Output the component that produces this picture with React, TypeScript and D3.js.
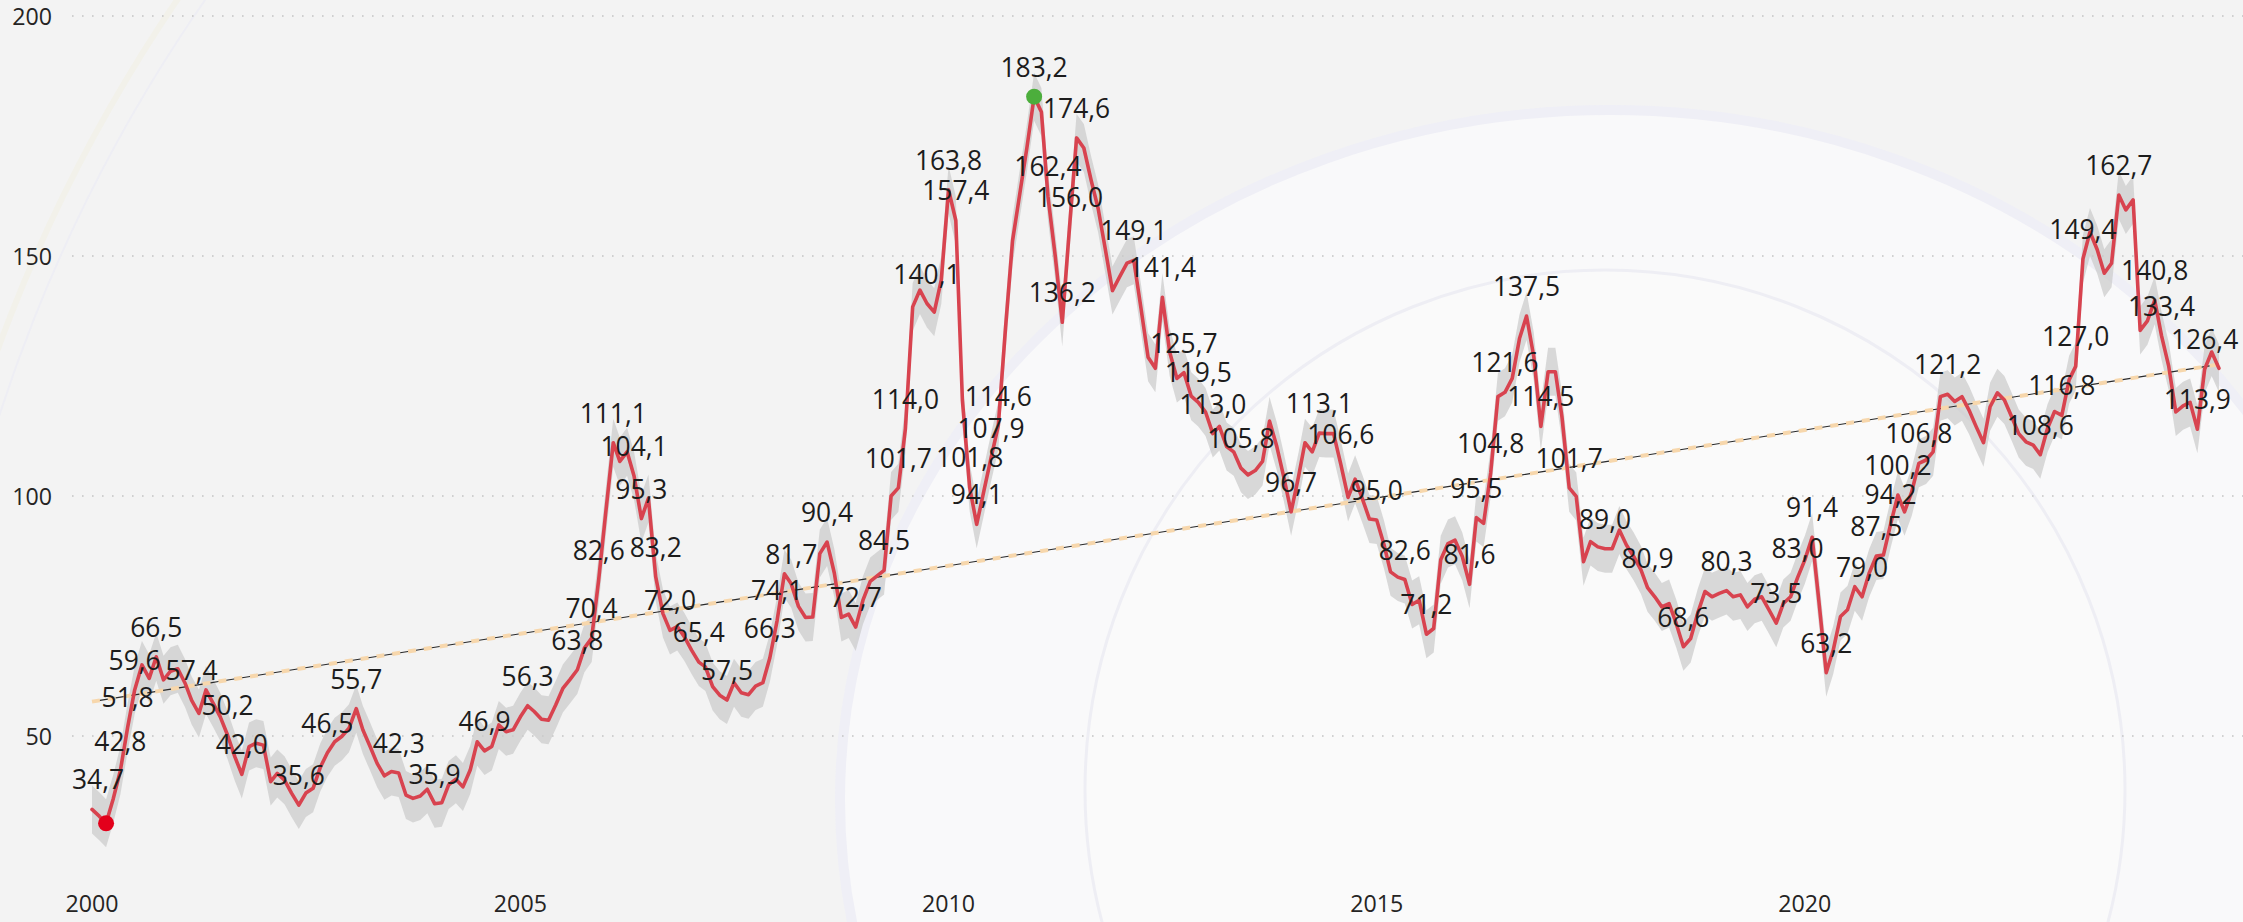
import React, { useEffect, useRef } from 'react';
import * as d3 from 'd3';

// ---- data (monthly, starting January 2000) ----
const START_YEAR = 2000;
const VALUES: number[] = [
  // 2000
  34.7, 33.3, 31.8, 37.0, 42.8, 51.8, 59.6, 64.8, 62.0, 66.5, 61.7, 63.5,
  // 2001
  64.0, 61.0, 57.4, 54.7, 59.6, 56.8, 54.0, 50.2, 45.7, 42.0, 47.8, 48.5,
  // 2002
  48.1, 40.5, 42.2, 40.8, 38.1, 35.6, 38.1, 39.1, 43.5, 46.5, 48.8, 49.9,
  // 2003
  51.6, 55.7, 51.3, 47.8, 44.3, 41.7, 42.6, 42.3, 37.7, 37.0, 37.5, 38.9,
  // 2004
  35.9, 36.1, 39.8, 41.0, 39.4, 42.9, 48.8, 46.9, 47.8, 52.3, 50.9, 51.3,
  // 2005
  54.0, 56.3, 55.1, 53.5, 53.3, 56.5, 59.9, 61.8, 63.8, 68.3, 70.4, 82.6,
  // 2006
  97.0, 111.1, 107.2, 109.2, 104.1, 95.3, 99.5, 83.2, 75.5, 72.0, 72.8, 70.7,
  // 2007
  67.9, 65.4, 64.4, 60.3, 58.5, 57.5, 61.1, 59.0, 58.6, 60.4, 61.1, 66.3,
  // 2008
  74.1, 83.8, 81.7, 77.0, 74.7, 74.8, 88.0, 90.4, 83.9, 74.7, 75.4, 72.7,
  // 2009
  78.3, 82.2, 83.3, 84.5, 100.0, 101.7, 114.0, 139.4, 142.9, 140.1, 138.3, 145.0,
  // 2010
  163.8, 157.4, 120.0, 101.8, 94.1, 101.1, 107.9, 114.6, 135.0, 153.2, 163.0, 172.5,
  // 2011
  183.2, 180.0, 162.4, 150.0, 136.2, 156.0, 174.6, 172.5, 165.8, 159.9, 151.3, 142.8,
  // 2012
  145.7, 148.5, 149.1, 139.0, 128.9, 126.6, 141.4, 130.0, 124.5, 125.7, 120.8, 119.5,
  // 2013
  117.5, 113.0, 114.5, 110.3, 109.2, 105.8, 104.4, 105.3, 107.2, 115.6, 110.3, 103.9,
  // 2014
  96.7, 103.9, 111.1, 109.2, 113.1, 113.0, 113.0, 106.6, 99.7, 103.5, 99.4, 95.2,
  // 2015
  95.0, 89.9, 84.2, 83.1, 82.6, 77.4, 78.3, 71.2, 72.4, 86.7, 90.1, 90.8,
  // 2016
  87.4, 81.6, 95.5, 94.3, 104.8, 120.7, 121.6, 124.5, 132.8, 137.5, 129.0, 114.5,
  // 2017
  125.9, 125.9, 116.5, 101.7, 99.9, 86.3, 90.5, 89.4, 89.0, 89.0, 92.9, 89.8,
  // 2018
  87.4, 84.6, 80.9, 79.0, 76.9, 77.6, 73.5, 68.6, 70.3, 75.6, 80.1, 79.0,
  // 2019
  79.7, 80.3, 79.0, 79.4, 76.9, 78.5, 79.0, 76.3, 73.5, 77.6, 79.0, 83.0,
  // 2020
  86.7, 91.4, 78.0, 63.2, 67.9, 74.9, 76.3, 81.1, 79.0, 83.9, 87.5, 87.7,
  // 2021
  94.2, 100.2, 96.7, 100.9, 106.8, 107.5, 109.2, 120.7, 121.2, 119.7, 120.7, 117.9,
  // 2022
  114.4, 111.1, 118.6, 121.5, 120.0, 116.5, 113.0, 111.3, 110.6, 108.6, 114.1, 117.6,
  // 2023
  116.8, 124.2, 127.0, 149.4, 155.0, 151.3, 146.4, 148.5, 162.7, 159.6, 161.7, 134.5,
  // 2024
  136.5, 140.8, 133.4, 127.0, 117.5, 118.8, 119.5, 113.9, 126.4, 130.0, 126.6,
];

// months (index into VALUES) that carry a data label
const LABEL_INDICES: number[] = [
  0, 4, 5, 6, 9, 14, 19, 21, 29, 33, 37, 43, 48, 55, 61, 68, 70, 71, 73, 76, 77, 79, 81,
  85, 89, 95, 96, 98, 103, 107, 111, 113, 114, 117, 120, 121, 123, 124, 126, 127, 132,
  134, 136, 137, 138, 146, 150, 153, 155, 157, 161, 168, 172, 175, 180, 184, 187, 193,
  194, 196, 198, 201, 203, 207, 212, 218, 223, 229, 236, 239, 241, 243, 248, 250, 252,
  253, 256, 260, 273, 276, 278, 279, 284, 289, 290, 295, 296,
];

const Y_TICKS: number[] = [50, 100, 150, 200];
const X_TICK_YEARS: number[] = [2000, 2005, 2010, 2015, 2020];
const ERROR_MARGIN = 5; // half-width of the grey error band

const W = 2243;
const H = 922;

export default function App() {
  const ref = useRef<SVGSVGElement | null>(null);

  useEffect(() => {
    document.body.style.margin = '0';
    const svg = d3.select(ref.current as SVGSVGElement);
    svg.selectAll('*').remove();

    const data = VALUES.map((v, i) => ({ i, date: new Date(START_YEAR, i, 1), v }));

    const x = d3
      .scaleTime()
      .domain([new Date(2000, 0, 1), new Date(2025, 0, 1)])
      .range([92, 92 + 25 * 85.65]);
    const y = d3.scaleLinear().domain([0, 200]).range([976, 16]);

    const plotLeft = 72;
    const plotRight = W;

    // ---- background ----
    svg.append('rect').attr('width', W).attr('height', H).attr('fill', '#f3f3f3');
    svg
      .append('circle')
      .attr('cx', 1500)
      .attr('cy', 900)
      .attr('r', 1600)
      .attr('fill', 'none')
      .attr('stroke', '#f2f1ea')
      .attr('stroke-width', 6);
    svg
      .append('circle')
      .attr('cx', 1500)
      .attr('cy', 900)
      .attr('r', 1577)
      .attr('fill', 'none')
      .attr('stroke', '#eeeef4')
      .attr('stroke-width', 2);
    svg
      .append('ellipse')
      .attr('cx', 1610)
      .attr('cy', 800)
      .attr('rx', 770)
      .attr('ry', 690)
      .attr('fill', '#f9f9fa')
      .attr('stroke', '#efeff6')
      .attr('stroke-width', 10);
    svg
      .append('circle')
      .attr('cx', 1605)
      .attr('cy', 790)
      .attr('r', 520)
      .attr('fill', '#fafafa')
      .attr('stroke', '#eeeef4')
      .attr('stroke-width', 3);

    // ---- gridlines ----
    const grid = svg.append('g');
    Y_TICKS.forEach((t) => {
      grid
        .append('line')
        .attr('x1', plotLeft)
        .attr('x2', plotRight)
        .attr('y1', y(t))
        .attr('y2', y(t))
        .attr('stroke', '#c4c4c4')
        .attr('stroke-width', 1.6)
        .attr('stroke-dasharray', '1.6 8.4');
    });

    const font = "'Open Sans', 'Segoe UI', sans-serif";

    // y axis labels
    svg
      .append('g')
      .selectAll('text')
      .data(Y_TICKS)
      .join('text')
      .attr('x', 52)
      .attr('y', (d) => y(d))
      .attr('text-anchor', 'end')
      .attr('dominant-baseline', 'central')
      .attr('font-family', font)
      .attr('font-size', 23.2)
      .attr('fill', '#252423')
      .text((d) => String(d));

    // x axis labels
    svg
      .append('g')
      .selectAll('text')
      .data(X_TICK_YEARS)
      .join('text')
      .attr('x', (d) => x(new Date(d, 0, 1)))
      .attr('y', 903)
      .attr('text-anchor', 'middle')
      .attr('dominant-baseline', 'central')
      .attr('font-family', font)
      .attr('font-size', 23.2)
      .attr('fill', '#252423')
      .text((d) => String(d));

    // ---- error band ----
    const area = d3
      .area<{ date: Date; v: number }>()
      .x((d) => x(d.date))
      .y0((d) => y(d.v - ERROR_MARGIN))
      .y1((d) => y(d.v + ERROR_MARGIN));
    svg.append('path').datum(data).attr('d', area).attr('fill', '#cbcbcb').attr('opacity', 0.72);

    // ---- trend line (least squares) ----
    const n = data.length;
    const mx = d3.mean(data, (d) => d.i) as number;
    const my = d3.mean(data, (d) => d.v) as number;
    let sxy = 0;
    let sxx = 0;
    data.forEach((d) => {
      sxy += (d.i - mx) * (d.v - my);
      sxx += (d.i - mx) * (d.i - mx);
    });
    const slope = sxy / sxx;
    const intercept = my - slope * mx;
    const trendPts = [data[0], data[n - 1]].map((d) => ({ date: d.date, v: intercept + slope * d.i }));
    const tline = d3
      .line<{ date: Date; v: number }>()
      .x((d) => x(d.date))
      .y((d) => y(d.v));
    svg
      .append('path')
      .datum(trendPts)
      .attr('d', tline)
      .attr('fill', 'none')
      .attr('stroke', '#f7d7ac')
      .attr('stroke-width', 4)
      .attr('stroke-dasharray', '8 8');
    svg
      .append('path')
      .datum(trendPts)
      .attr('d', tline)
      .attr('fill', 'none')
      .attr('stroke', '#2a2a2a')
      .attr('stroke-width', 1.1)
      .attr('stroke-dasharray', '8 8')
      .attr('stroke-dashoffset', 8);

    // ---- main line ----
    const line = d3
      .line<{ date: Date; v: number }>()
      .x((d) => x(d.date))
      .y((d) => y(d.v));
    svg
      .append('path')
      .datum(data)
      .attr('d', line)
      .attr('fill', 'none')
      .attr('stroke', '#d8434f')
      .attr('stroke-width', 3.6)
      .attr('stroke-linejoin', 'round')
      .attr('stroke-linecap', 'round');

    // ---- min / max markers ----
    const iMin = d3.minIndex(data, (d) => d.v);
    const iMax = d3.maxIndex(data, (d) => d.v);
    svg
      .append('circle')
      .attr('cx', x(data[iMin].date))
      .attr('cy', y(data[iMin].v))
      .attr('r', 8)
      .attr('fill', '#e3001b');
    svg
      .append('circle')
      .attr('cx', x(data[iMax].date))
      .attr('cy', y(data[iMax].v))
      .attr('r', 8)
      .attr('fill', '#4cae3c');

    // ---- data labels ----
    const fmt = (v: number) => v.toFixed(1).replace('.', ',');
    const labels = svg
      .append('g')
      .selectAll('text')
      .data(LABEL_INDICES.map((i) => data[i]))
      .join('text')
      .attr('x', (d) => x(d.date))
      .attr('y', (d) => y(d.v) - 30)
      .attr('text-anchor', 'middle')
      .attr('dominant-baseline', 'central')
      .attr('font-family', font)
      .attr('font-size', 26.4)
      .attr('fill', '#1c1c1c')
      .text((d) => fmt(d.v));
    // keep labels inside the plot area
    labels.each(function (d) {
      const el = this as SVGTextElement;
      const w = el.getComputedTextLength();
      const cx = x(d.date);
      let nx = cx;
      if (cx - w / 2 < plotLeft) nx = plotLeft + w / 2;
      if (cx + w / 2 > plotRight) nx = plotRight - w / 2;
      el.setAttribute('x', String(nx));
    });
  }, []);

  return (
    <svg
      ref={ref}
      width={W}
      height={H}
      style={{ display: 'block', position: 'absolute', left: 0, top: 0 }}
    />
  );
}
